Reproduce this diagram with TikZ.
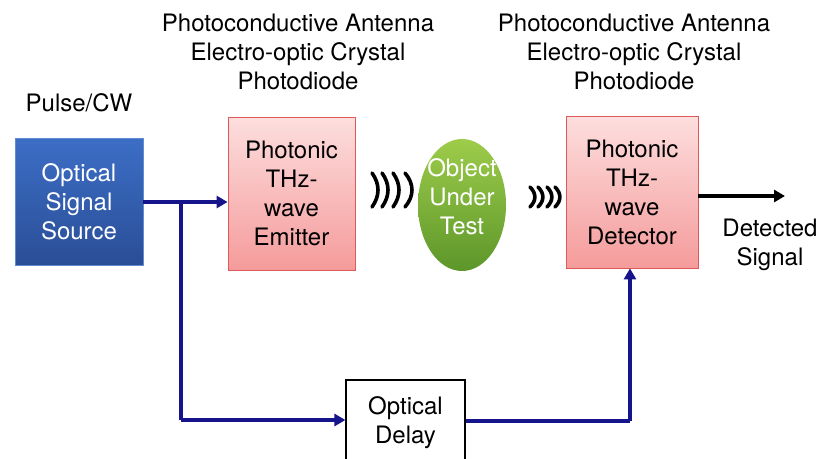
\documentclass[tikz,border=0pt]{standalone}
\usepackage{fontspec}
\setmainfont{TeX Gyre Heros}
\usetikzlibrary{arrows.meta,shapes.geometric}
\definecolor{navyline}{RGB}{22,20,138}
\definecolor{bluetop}{RGB}{60,110,198}
\definecolor{bluebot}{RGB}{42,78,150}
\definecolor{pinktop}{RGB}{253,222,222}
\definecolor{pinkbot}{RGB}{245,155,155}
\definecolor{pinkedge}{RGB}{222,90,90}
\definecolor{greentop}{RGB}{158,204,74}
\definecolor{greenbot}{RGB}{92,150,42}
\begin{document}
\begin{tikzpicture}[x=1pt,y=-1pt,
  font=\fontsize{24}{29}\selectfont,
  every node/.style={inner sep=0pt, align=center},
  pinkbox/.style={rectangle, shade, top color=pinktop, bottom color=pinkbot, draw=pinkedge, line width=0.8pt},
  navyarrow/.style={draw=navyline, line width=4pt, -{Triangle[length=11pt,width=12pt]}},
  navyline/.style={draw=navyline, line width=4pt},
  wave/.style={line width=3.6pt, line cap=round}]
\useasboundingbox (0,0) rectangle (824,458);
\clip (0,0) rectangle (824,458);
\fill[white] (0,0) rectangle (824,458);

% labels
\node (pulse) at (79,103) {Pulse/CW};
\node (lab1) at (298,52) {Photoconductive Antenna\\Electro-optic Crystal\\Photodiode};
\node (lab2) at (634,52) {Photoconductive Antenna\\Electro-optic Crystal\\Photodiode};

% boxes
\node[rectangle, shade, top color=bluetop, bottom color=bluebot, draw=bluetop!80!white, line width=0.6pt,
      minimum width=128pt, minimum height=127pt, text=white] (src) at (79,201.5) {Optical\\Signal\\Source};
\node[pinkbox, minimum width=127pt, minimum height=153pt] (emit) at (291.5,193.5) {Photonic\\THz-\\wave\\Emitter};
\node[pinkbox, minimum width=132pt, minimum height=152pt] (det) at (632,192) {Photonic\\THz-\\wave\\Detector};
\node[ellipse, shade, top color=greentop, bottom color=greenbot, minimum width=88pt, minimum height=132pt] (obj) at (462,205) {};
\node[text=white] (objtxt) at (462,197) {Object\\Under\\Test};
\node[rectangle, draw=black, line width=1.2pt, fill=white, minimum width=119pt, minimum height=86pt] (delay) at (405.5,423) {};
\node (delaytxt) at (405.5,422.5) {Optical\\Delay};
\node (dettxt) at (770,244.5) {Detected\\Signal};

% connectors
\coordinate (branch) at (181,202);
\coordinate (corner1) at (181,420);
\coordinate (corner2) at (630,421);
\coordinate (outend) at (785,196);
\draw[navyarrow] (src.east |- branch) -- (emit.west |- branch);
\draw[navyline] (branch) -- (corner1);
\draw[navyarrow] (corner1) -- (delay.west |- corner1);
\draw[navyline] (delay.east |- corner2) -- (corner2);
\draw[navyarrow] (corner2) -- (det.south -| corner2);
\draw[line width=3.6pt, -{Triangle[length=11pt,width=12pt]}] (det.east |- outend) -- (outend);

% waves
\foreach \x/\w in {372/6, 382/6, 393/6, 405/7} {
  \draw[wave] (\x,173) .. controls (\x+1.33*\w,184) and (\x+1.33*\w,196) .. (\x,207);
}
\foreach \x in {530,538,547,555} {
  \draw[wave] (\x,187) .. controls (\x+6.5,193.5) and (\x+6.5,200.5) .. (\x,207);
}
\end{tikzpicture}
\end{document}
